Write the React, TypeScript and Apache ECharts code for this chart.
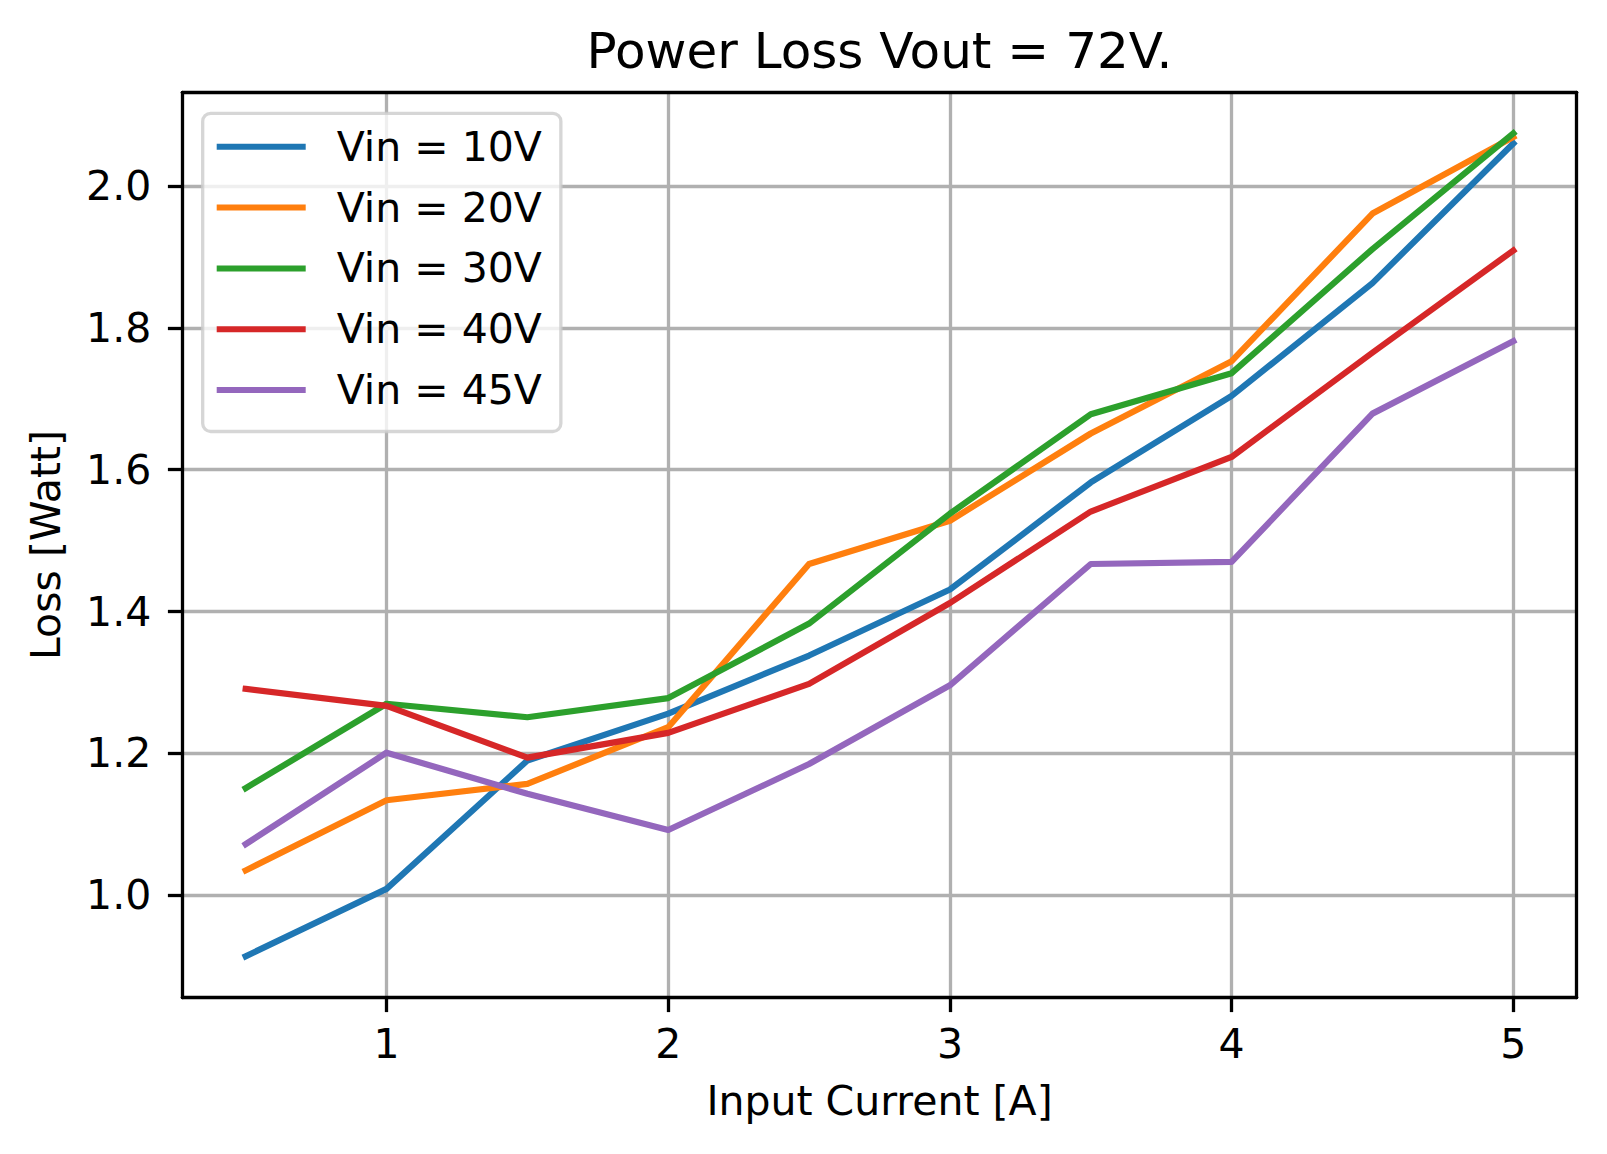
import React, { useEffect, useRef } from "react";
import * as echarts from "echarts";

const currents = [0.5, 1, 1.5, 2, 2.5, 3, 3.5, 4, 4.5, 5];
const vin10 = [0.914, 1.009, 1.19, 1.256, 1.338, 1.431, 1.582, 1.704, 1.863, 2.06];
const vin20 = [1.035, 1.134, 1.157, 1.237, 1.467, 1.528, 1.651, 1.753, 1.961, 2.069];
const vin30 = [1.151, 1.27, 1.251, 1.278, 1.383, 1.538, 1.678, 1.736, 1.911, 2.074];
const vin40 = [1.291, 1.267, 1.194, 1.229, 1.298, 1.412, 1.541, 1.618, 1.765, 1.909];
const vin45 = [1.072, 1.201, 1.143, 1.092, 1.185, 1.296, 1.467, 1.47, 1.679, 1.781];
const seriesNames = ["Vin = 10V", "Vin = 20V", "Vin = 30V", "Vin = 40V", "Vin = 45V"];
const seriesColors = ["#1f77b4", "#ff7f0e", "#2ca02c", "#d62728", "#9467bd"];
const xTicks = [1, 2, 3, 4, 5];
const yTicks = [1.0, 1.2, 1.4, 1.6, 1.8, 2.0];

const FONT = "DejaVu Sans";

export default function App() {
  const ref = useRef<HTMLDivElement>(null);
  useEffect(() => {
    if (!ref.current) return;
    const chart = echarts.init(ref.current, null, { renderer: "svg" });
    const allSeries = [vin10, vin20, vin30, vin40, vin45];
    const gridL = 182.3, gridT = 92.3, gridR = 1576.7, gridB = 997.7;
    const xMin = 0.275, xMax = 5.225, yMin = 0.8556, yMax = 2.132;
    const spine = { show: true, lineStyle: { color: "#000", width: 3.3 } };
    const off = { show: false };
    const option: any = {
      animation: false,
      textStyle: { fontFamily: FONT },
      title: {
        text: "Power Loss Vout = 72V.",
        left: (gridL + gridR) / 2,
        top: 26,
        textAlign: "center",
        padding: 0,
        textStyle: { fontFamily: FONT, fontSize: 50, fontWeight: "normal", color: "#000", lineHeight: 50 },
      },
      grid: {
        left: gridL,
        top: gridT,
        width: gridR - gridL,
        height: gridB - gridT,
        containLabel: false,
        outerBoundsMode: "none",
      },
      legend: {
        orient: "vertical",
        left: 202.7,
        top: 113.3,
        padding: [13, 19, 21, 14],
        itemWidth: 89,
        itemHeight: 6,
        itemGap: 19.8,
        icon: "rect",
        backgroundColor: "rgba(255,255,255,0.8)",
        borderColor: "rgba(204,204,204,0.8)",
        borderWidth: 3.3,
        borderRadius: 8,
        itemStyle: { borderWidth: 0 },
        textStyle: { fontFamily: FONT, fontSize: 41, lineHeight: 41, color: "#000", padding: [0, 0, 0, 26] },
        data: seriesNames,
        z: 10,
      },
      xAxis: [
        {
          type: "value",
          min: xMin,
          max: xMax,
          name: "Input Current [A]",
          nameLocation: "middle",
          nameGap: 83,
          nameTextStyle: { fontFamily: FONT, fontSize: 41, lineHeight: 41, color: "#000" },
          axisLine: off,
          axisTick: { show: true, customValues: xTicks, length: 14.4, lineStyle: { color: "#000", width: 3.3 } },
          axisLabel: {
            show: true,
            customValues: xTicks,
            margin: 26,
            fontFamily: FONT,
            fontSize: 41,
            lineHeight: 41,
            color: "#000",
            formatter: (v: number) => String(v),
          },
          splitLine: { show: true, lineStyle: { color: "#b0b0b0", width: 3.3 } },
        },
        { type: "value", min: xMin, max: xMax, position: "bottom", axisLine: spine, axisTick: off, axisLabel: off, splitLine: off, z: 3 },
        { type: "value", min: xMin, max: xMax, position: "top", axisLine: spine, axisTick: off, axisLabel: off, splitLine: off, z: 3 },
      ],
      yAxis: [
        {
          type: "value",
          min: yMin,
          max: yMax,
          name: "Loss [Watt]",
          nameLocation: "middle",
          nameGap: 116,
          nameTextStyle: { fontFamily: FONT, fontSize: 41, lineHeight: 41, color: "#000" },
          axisLine: off,
          axisTick: { show: true, customValues: yTicks, length: 14.4, lineStyle: { color: "#000", width: 3.3 } },
          axisLabel: {
            show: true,
            customValues: yTicks,
            margin: 31,
            fontFamily: FONT,
            fontSize: 41,
            lineHeight: 41,
            color: "#000",
            formatter: (v: number) => v.toFixed(1),
          },
          splitLine: { show: true, lineStyle: { color: "#b0b0b0", width: 3.3 } },
        },
        { type: "value", min: yMin, max: yMax, position: "left", axisLine: spine, axisTick: off, axisLabel: off, splitLine: off, z: 3 },
        { type: "value", min: yMin, max: yMax, position: "right", axisLine: spine, axisTick: off, axisLabel: off, splitLine: off, z: 3 },
      ],
      series: allSeries.map((vals, i) => ({
        name: seriesNames[i],
        type: "line",
        xAxisIndex: 0,
        yAxisIndex: 0,
        data: currents.map((c, j) => [c, vals[j]]),
        showSymbol: false,
        symbol: "none",
        color: seriesColors[i],
        lineStyle: { color: seriesColors[i], width: 6.2, cap: "square", join: "round" },
        z: 2,
      })),
    };
    chart.setOption(option);
    return () => chart.dispose();
  }, []);
  return <div ref={ref} style={{ position: "fixed", left: 0, top: 0, width: 1607, height: 1154, background: "#fff" }} />;
}
